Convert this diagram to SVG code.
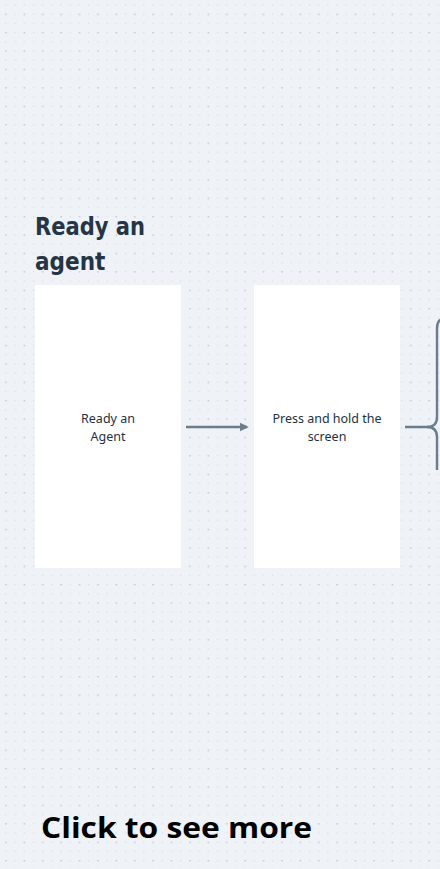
<svg xmlns="http://www.w3.org/2000/svg" width="440" height="869" viewBox="0 0 440 869">
<defs>
<pattern id="dots" x="0" y="0" width="18.4" height="18.4" patternUnits="userSpaceOnUse">
<rect x="5.3" y="13.6" width="1.4" height="1.4" fill="#b9c3d3"/>
<rect x="14.5" y="13.6" width="1.2" height="1.2" fill="#d3dae4"/>
<rect x="5.3" y="4.4" width="1.2" height="1.2" fill="#d3dae4"/>
<rect x="14.5" y="4.4" width="1.2" height="1.2" fill="#d3dae4"/>
</pattern>
<marker id="arr" viewBox="0 0 10 10" refX="8" refY="5" markerWidth="3.6" markerHeight="4" orient="auto" markerUnits="strokeWidth">
<path d="M0,0 L10,5 L0,10 z" fill="#6b7d8c"/>
</marker>
<style>
.box{fill:#ffffff}
.lbl{font-family:"Noto Sans","DejaVu Sans",sans-serif;font-size:12.5px;fill:#24323f;text-anchor:middle}
.conn{stroke:#6b7d8c;stroke-width:2.4;fill:none}
.ttl{font-family:"DejaVu Sans Condensed","DejaVu Sans",sans-serif;font-weight:bold;font-size:24px;fill:#253545}
</style>
</defs>
<rect width="440" height="869" fill="#eff3f7"/>
<rect width="440" height="869" fill="url(#dots)"/>
<g id="title">
<text class="ttl" x="35" y="235" textLength="110" lengthAdjust="spacingAndGlyphs">Ready an</text>
<text class="ttl" x="35" y="270">agent</text>
</g>
<g id="node1">
<rect class="box" x="35" y="285" width="146" height="283"/>
<text class="lbl" x="108" y="423">Ready an</text>
<text class="lbl" x="108" y="441">Agent</text>
</g>
<g id="node2">
<rect class="box" x="254" y="285" width="146" height="283"/>
<text class="lbl" x="327" y="423">Press and hold the</text>
<text class="lbl" x="327" y="441">screen</text>
</g>
<g id="connectors">
<line class="conn" x1="186" y1="427" x2="247" y2="427" marker-end="url(#arr)"/>
<path class="conn" d="M405,427 H427 Q437,427 437,417 V328 Q437,318 447,318"/>
<path class="conn" d="M427,427 Q437,427 437,437 V470"/>
</g>
<g id="cta">
<text x="41" y="838" font-family="'Open Sans','Noto Sans',sans-serif" font-weight="bold" font-size="29" fill="#000000" textLength="271" lengthAdjust="spacingAndGlyphs">Click to see more</text>
</g>
</svg>
